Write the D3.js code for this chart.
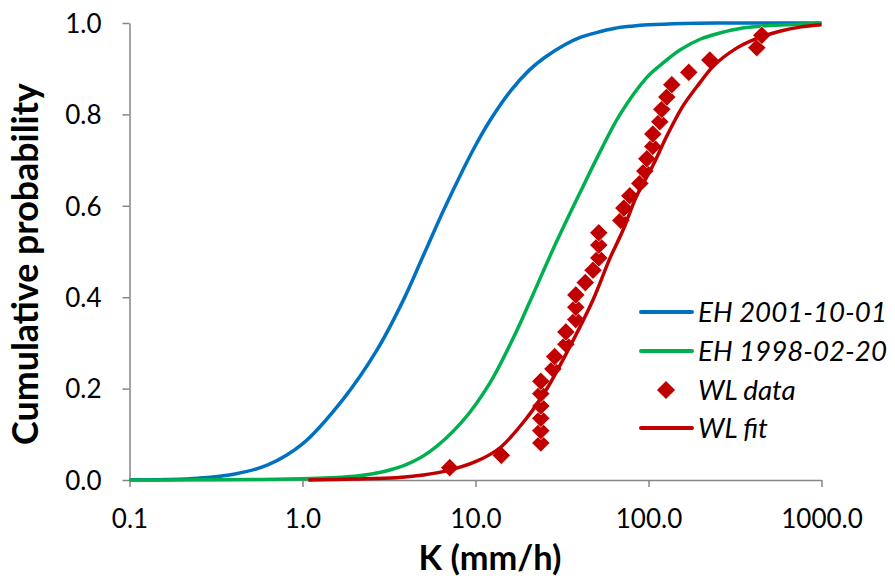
<!DOCTYPE html>
<html><head><meta charset="utf-8">
<script src="https://cdn.jsdelivr.net/npm/d3@7"></script>
<style>
html,body{margin:0;padding:0;background:#fff;}
svg{display:block;}
text{font-family:Lato,"Open Sans",sans-serif;fill:#000;}
</style></head>
<body><svg id="chart" width="895" height="578"></svg>
<script>
// ---- data ----
const xTicks = [0.1, 1, 10, 100, 1000];
const xTickLabels = ["0.1", "1.0", "10.0", "100.0", "1000.0"];
const yTicks = [0, 0.2, 0.4, 0.6, 0.8, 1.0];
const yTickLabels = ["0.0", "0.2", "0.4", "0.6", "0.8", "1.0"];

const eh2001K = [0.1, 0.16, 0.25, 0.4, 0.63, 1.0, 1.72, 2.68, 3.81, 4.98, 6.5, 8.47, 10, 12.1, 16, 20.6, 25, 33, 40, 50, 63, 80, 100, 160, 250, 400, 1000];
const eh2001P = [0.0003, 0.0011, 0.0039, 0.0125, 0.033, 0.079, 0.177, 0.283, 0.392, 0.490, 0.588, 0.679, 0.732, 0.786, 0.852, 0.898, 0.924, 0.953, 0.968, 0.979, 0.988, 0.993, 0.996, 0.999, 1.0, 1.0, 1.0];

const eh1998K = [0.1, 0.25, 0.59, 1.0, 1.44, 2.0, 2.92, 4.0, 5.44, 8.47, 12.1, 16.5, 20.6, 28.8, 40.1, 52.3, 68.2, 97.3, 120, 152, 200, 258, 350, 478, 1000];
const eh1998P = [0, 0.0003, 0.0012, 0.003, 0.005, 0.008, 0.018, 0.034, 0.062, 0.130, 0.212, 0.310, 0.390, 0.514, 0.628, 0.717, 0.799, 0.880, 0.911, 0.941, 0.965, 0.978, 0.989, 0.994, 0.999];

const wlFitK = [1.08, 2, 3.49, 5, 6.8, 10, 13.8, 20, 25.7, 33.6, 47.9, 59.8, 71.3, 85, 106, 127, 158, 199, 236, 323, 420, 575, 750, 1000];
const wlFitP = [0, 0.002, 0.005, 0.011, 0.020, 0.040, 0.070, 0.138, 0.198, 0.278, 0.395, 0.485, 0.547, 0.620, 0.688, 0.751, 0.818, 0.870, 0.905, 0.945, 0.966, 0.982, 0.991, 0.996];

const wlDataK = [7.1, 14.1, 23.85, 23.85, 23.85, 23.85, 23.85, 23.85, 28.0, 28.7, 33.3, 33.3, 38.0, 38.0, 38.0, 43.1, 47.8, 51.6, 51.6, 51.6, 69.2, 72.0, 78.0, 89.1, 95.2, 97.8, 105.9, 105.9, 116.2, 119.4, 127.6, 136.4, 171.0, 226.1, 422.7, 451.9];
const wlDataP = [0.027, 0.054, 0.081, 0.108, 0.135, 0.162, 0.189, 0.216, 0.243, 0.270, 0.297, 0.324, 0.351, 0.378, 0.405, 0.432, 0.459, 0.486, 0.514, 0.541, 0.568, 0.595, 0.622, 0.649, 0.676, 0.703, 0.730, 0.757, 0.784, 0.811, 0.838, 0.865, 0.892, 0.919, 0.946, 0.973];

const seriesNames = ["EH 2001-10-01", "EH 1998-02-20", "WL data", "WL fit"];
const seriesColors = ["#0070C0", "#00B050", "#C00000", "#C00000"];
const xTitle = "K (mm/h)";
const yTitle = "Cumulative probability";

// ---- drawing ----
const svg = d3.select("#chart");
const x = d3.scaleLog().domain([0.1, 1000]).range([129.5, 821.5]);
const y = d3.scaleLinear().domain([0, 1]).range([480, 23]);
const axisColor = "#868686";

function fitText(sel, target) {
  const fs = parseFloat(sel.attr("font-size"));
  const w = sel.node().getComputedTextLength();
  if (w > 0) sel.attr("font-size", (fs * target / w).toFixed(2));
}

const xAxis = svg.append("g").attr("transform", "translate(0,480)")
  .call(d3.axisBottom(x).tickValues(xTicks).tickSize(7).tickSizeOuter(0)
    .tickFormat((d, i) => xTickLabels[i]));
const yAxis = svg.append("g").attr("transform", "translate(129.5,0)")
  .call(d3.axisLeft(y).tickValues(yTicks).tickSize(7).tickSizeOuter(0)
    .tickFormat((d, i) => yTickLabels[i]));
[xAxis, yAxis].forEach(g => {
  g.select(".domain").attr("stroke", axisColor).attr("stroke-width", 1.5);
  g.selectAll(".tick line").attr("stroke", axisColor).attr("stroke-width", 1.5);
  g.selectAll(".tick text").attr("font-family", "Lato").attr("font-size", 26).attr("fill", "#000");
});
xAxis.selectAll(".tick text").attr("dy", 0).attr("y", 48);
yAxis.selectAll(".tick text").attr("x", -28).attr("dy", "0.36em");

const xt = svg.append("text").attr("x", 490).attr("y", 570).attr("text-anchor", "middle")
  .attr("font-size", 30).attr("font-weight", "bold").text(xTitle);
fitText(xt, 143);
const yt = svg.append("text").attr("transform", "translate(38,264) rotate(-90)").attr("text-anchor", "middle")
  .attr("font-size", 30).attr("font-weight", "bold").text(yTitle);
fitText(yt, 362);

const line = d3.line().x(d => x(d[0])).y(d => y(d[1])).curve(d3.curveCatmullRom.alpha(0.5));
const zip = (a, b) => a.map((v, i) => [v, b[i]]);

svg.append("path").datum(zip(eh2001K, eh2001P)).attr("d", line)
  .attr("fill", "none").attr("stroke", seriesColors[0]).attr("stroke-width", 3.5);
svg.append("path").datum(zip(eh1998K, eh1998P)).attr("d", line)
  .attr("fill", "none").attr("stroke", seriesColors[1]).attr("stroke-width", 3.5);

const diamond = d3.symbol(d3.symbolSquare, 165);
svg.append("g").selectAll("path").data(zip(wlDataK, wlDataP)).join("path")
  .attr("d", diamond)
  .attr("transform", d => `translate(${x(d[0])},${y(d[1])}) rotate(45)`)
  .attr("fill", seriesColors[2]).attr("stroke", "#fff").attr("stroke-width", 0.6);

svg.append("path").datum(zip(wlFitK, wlFitP)).attr("d", line)
  .attr("fill", "none").attr("stroke", seriesColors[3]).attr("stroke-width", 3.5);

// legend
const legY = [312, 351, 390, 428];
const leg = svg.append("g");
let legSize = 27;
seriesNames.forEach((name, i) => {
  if (i === 2) {
    leg.append("path").attr("d", diamond)
      .attr("transform", `translate(666,${legY[i]}) rotate(45)`)
      .attr("fill", seriesColors[i]);
  } else {
    leg.append("line").attr("x1", 641).attr("x2", 692).attr("y1", legY[i]).attr("y2", legY[i])
      .attr("stroke", seriesColors[i]).attr("stroke-width", 4).attr("stroke-linecap", "round");
  }
  const t = leg.append("text").attr("x", 698).attr("y", legY[i]).attr("dy", "0.36em")
    .attr("font-size", legSize).attr("font-style", "italic").text(name);
  if (i === 0) { fitText(t, 189); legSize = parseFloat(t.attr("font-size")); }
});
</script></body></html>
